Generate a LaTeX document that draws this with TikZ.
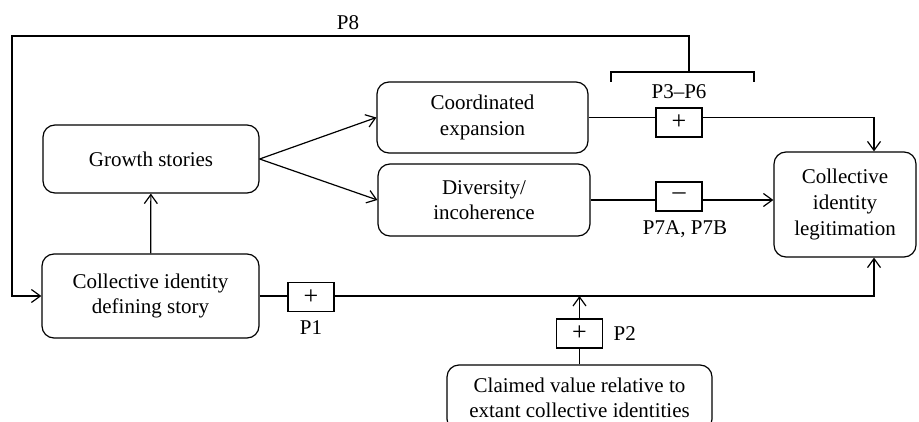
\documentclass[tikz,border=0pt]{standalone}
\usepackage{fontspec}
\setmainfont{Liberation Serif}
\usepackage{tikz}
\usetikzlibrary{positioning,arrows.meta}

\begin{document}
\begin{tikzpicture}[
  x=0.5pt, y=-0.5pt,
  line width=0.6pt,
  every node/.style={font=\fontsize{10.5}{12.8}\selectfont},
  box/.style={draw, rounded corners=6pt, align=center, inner sep=2pt},
  sign/.style={draw, minimum width=23pt, minimum height=14.5pt, inner sep=0pt,
    font=\fontsize{13}{13}\selectfont},
  lab/.style={inner sep=2pt},
  arrow/.style={-{Straight Barb[length=4.5pt,width=6.5pt]}}
]
\useasboundingbox (0,0) rectangle (919,422);

\node[box, minimum width=108pt, minimum height=34pt] (growth) at (151,159) {Growth stories};
\node[box, minimum width=108.5pt, minimum height=42pt] (cid) at (150.5,296) {Collective identity\\defining story};
\node[box, minimum width=105.5pt, minimum height=35.5pt] (coord) at (482.5,117.5) {Coordinated\\expansion};
\node[box, minimum width=106pt, minimum height=36pt] (div) at (484,200) {Diversity/\\incoherence};
\node[box, minimum width=71pt, minimum height=52.5pt] (legit) at (845,204.5) {Collective\\identity\\legitimation};
\node[box, minimum width=132.5pt, minimum height=33pt] (claim) at (579.5,398) {Claimed value relative to\\extant collective identities};

\node[sign] (plusA) at (679,122.5) {+};
\node[sign] (minus) at (679,196.5) {--};
\node[sign] (plusP1) at (311,297) {+};
\node[sign] (plusP2) at (579.5,333.5) {+};

\node[lab, above=2pt of plusA] (p36) {P3--P6};
\node[lab, below=2pt of minus, xshift=3pt] (p7) {P7A, P7B};
\node[lab, below=2pt of plusP1] (p1) {P1};
\node[lab, right=3pt of plusP2] (p2) {P2};
\node[lab] (p8) at (348,23) {P8};

% bracket over P3-P6 and feedback loop
\coordinate (brkL) at (611,82);
\coordinate (brkR) at (754,82);
\coordinate (brk) at (689,72);
\coordinate (loop) at (12,36);
\draw (brkL) -- (brkL |- brk) -- (brkR |- brk) -- (brkR);
\draw[arrow] (brk) |- (loop) |- (cid.west);

\draw[arrow] (cid) -- (growth);
\draw[arrow] (growth.east) -- (coord.west);
\draw[arrow] (growth.east) -- (div.west);

\draw (coord.east) -- (coord.east -| plusA.west);
\draw[arrow] (plusA.east |- coord.east) -| ([xshift=14.5pt]legit.north);

\draw (div.east) -- (div.east -| minus.west);
\draw[arrow] (minus.east |- div.east) -- (div.east -| legit.west);

\draw (cid.east) -- (cid.east -| plusP1.west);
\draw[arrow] (plusP1.east |- cid.east) -| ([xshift=14.5pt]legit.south);

\draw (claim) -- (plusP2);
\draw[arrow] (plusP2.north) -- (plusP2.north |- cid.east);
\end{tikzpicture}
\end{document}
